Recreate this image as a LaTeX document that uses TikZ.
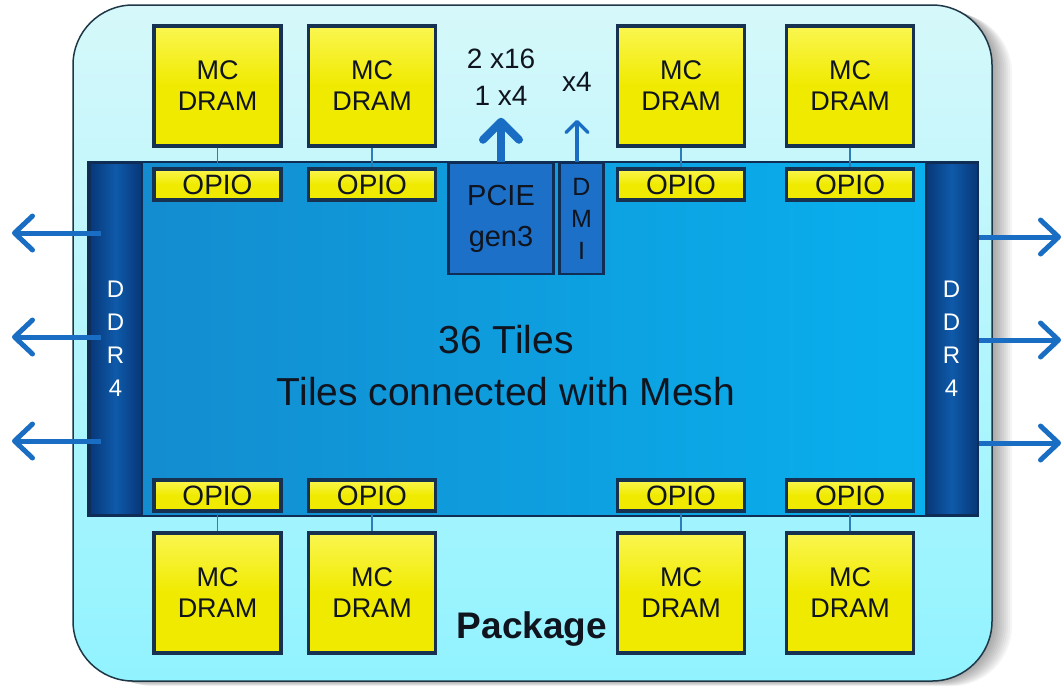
\documentclass[tikz,border=0pt]{standalone}
\usepackage{fontspec}
\setmainfont{Liberation Sans}
\usetikzlibrary{arrows.meta}
\definecolor{pkgtop}{RGB}{214,248,250}
\definecolor{pkgbot}{RGB}{145,243,255}
\definecolor{pkgedge}{RGB}{30,55,70}
\definecolor{chipl}{RGB}{20,138,205}
\definecolor{chipr}{RGB}{8,178,240}
\definecolor{navy}{RGB}{15,45,85}
\definecolor{ddrc}{RGB}{14,90,170}
\definecolor{ddrd}{RGB}{8,55,120}
\definecolor{ylw}{RGB}{240,234,0}
\definecolor{ylwl}{RGB}{250,246,80}
\definecolor{boxedge}{RGB}{22,50,80}
\definecolor{pciec}{RGB}{28,112,200}
\definecolor{arrc}{RGB}{25,110,195}
\definecolor{linkc}{RGB}{45,125,185}
\definecolor{txt}{RGB}{15,20,30}
\tikzset{
  yelbox/.style={draw=boxedge, line width=3.5pt, top color=ylwl, bottom color=ylw, middle color=ylw,
    inner sep=0pt, align=center, text=txt},
  mcdram/.style={yelbox, minimum width=127pt, minimum height=120pt,
    font=\fontsize{27}{31}\selectfont},
  opio/.style={yelbox, minimum width=127pt, minimum height=31pt,
    font=\fontsize{28}{30}\selectfont},
  ddrbar/.style={draw=navy, line width=2pt, left color=ddrd, right color=ddrd, middle color=ddrc,
    minimum width=52pt, minimum height=352pt, inner sep=0pt, align=center, text=white,
    font=\fontsize{24}{33}\selectfont},
  bluebox/.style={draw=navy, line width=2.5pt, fill=pciec, inner sep=0pt, align=center, text=txt,
    minimum height=111pt},
  link/.style={draw=linkc, line width=1.3pt},
  bigarrow/.style={draw=arrc, line width=8pt, -{Straight Barb[length=18pt,width=36pt,round]}},
  smallarrow/.style={draw=arrc, line width=3.5pt, -{Straight Barb[length=11pt,width=22pt,round]}},
  ddrarrow/.style={draw=arrc, line width=5pt, -{Straight Barb[length=18pt,width=34pt,round]}},
  lbl/.style={text=txt, align=center, inner sep=0pt}
}
\begin{document}
\begin{tikzpicture}[x=1pt,y=-1pt]
\useasboundingbox (0,0) rectangle (1064,686);
% shadow
\foreach \d in {2,4,...,20} {
  \fill[black, opacity=0.04, rounded corners=60pt] (73+\d,5+0.4*\d) rectangle (992+\d,681+0.25*\d);
}
% package
\node[draw=pkgedge, line width=1.5pt, top color=pkgtop, bottom color=pkgbot, rounded corners=60pt,
  minimum width=919pt, minimum height=676pt, inner sep=0pt] (pkg) at (532.5,343) {};
% chip
\node[draw=navy, line width=2.5pt, left color=chipl, right color=chipr,
  minimum width=890pt, minimum height=354pt, inner sep=0pt] (chip) at (533,339) {};
\node[lbl, font=\fontsize{39}{52}\selectfont] (center) at (506,366) {36 Tiles\\Tiles connected with Mesh};
% DDR bars
\node[ddrbar] (ddrL) at (115.5,339) {D\\D\\R\\4};
\node[ddrbar] (ddrR) at (951.5,339) {D\\D\\R\\4};
% PCIE / DMI
\node[bluebox, minimum width=105pt, font=\fontsize{29}{41}\selectfont] (pcie) at (501,218.5) {PCIE\\gen3};
\node[bluebox, minimum width=44pt, font=\fontsize{25}{32}\selectfont] (dmi) at (581.5,218.5) {D\\M\\I};
\node[lbl, font=\fontsize{28}{37}\selectfont] (pcielbl) at (501,77) {2 x16\\1 x4};
\node[lbl, font=\fontsize{28}{30}\selectfont] (dmilbl) at (577,82) {x4};
\draw[bigarrow] (pcie.north) -- ++(0,-44);
\draw[smallarrow] (dmi.north -| dmilbl) -- ++(0,-42);
% DRAM + OPIO
\foreach \x [count=\i] in {217.5,372,681,850} {
  \node[mcdram] (mt\i) at (\x,86) {MC\\DRAM};
  \node[opio] (ot\i) at (\x,184.5) {OPIO};
  \draw[link] (mt\i) -- (ot\i);
  \node[opio] (ob\i) at (\x,495.5) {OPIO};
  \node[mcdram] (mb\i) at (\x,593) {MC\\DRAM};
  \draw[link] (ob\i) -- (mb\i);
}
% DDR arrows
\foreach \y [count=\i] in {233,337,441} {
  \coordinate (la\i) at (12,\y);
  \draw[ddrarrow] (ddrL.west |- la\i) ++(12,0) -- (la\i);
}
\foreach \y [count=\i] in {237,340,443} {
  \coordinate (ra\i) at (1061,\y);
  \draw[ddrarrow] (ddrR.east |- ra\i) -- (ra\i);
}
% package label
\node[text=txt, font=\bfseries\fontsize{37}{40}\selectfont, anchor=base, inner sep=0pt] (pkglbl) at (532,638) {Package};
\end{tikzpicture}
\end{document}
